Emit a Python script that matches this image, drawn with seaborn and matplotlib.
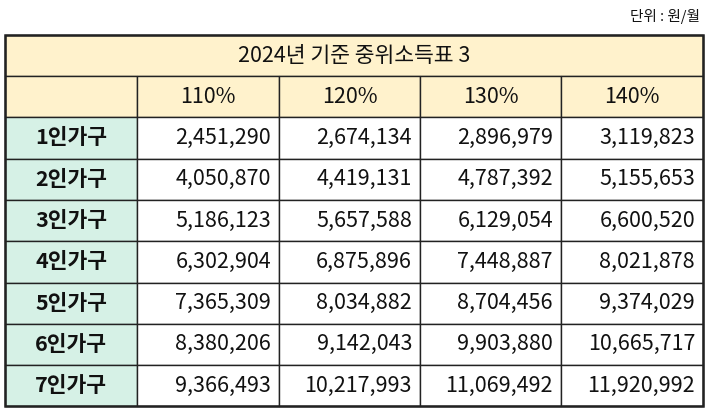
import matplotlib
matplotlib.use("Agg")
import matplotlib.pyplot as plt
from matplotlib.patches import Rectangle
import seaborn as sns

title = "2024년 기준 중위소득표 3"
unit_note = "단위 : 원/월"
columns = ["110%", "120%", "130%", "140%"]
households = ["1인가구", "2인가구", "3인가구", "4인가구", "5인가구", "6인가구", "7인가구"]
values = [
    [2451290, 2674134, 2896979, 3119823],
    [4050870, 4419131, 4787392, 5155653],
    [5186123, 5657588, 6129054, 6600520],
    [6302904, 6875896, 7448887, 8021878],
    [7365309, 8034882, 8704456, 9374029],
    [8380206, 9142043, 9903880, 10665717],
    [9366493, 10217993, 11069492, 11920992],
]

sns.set_theme(style="white")
plt.rcParams["font.family"] = ["Noto Sans CJK KR", "DejaVu Sans"]

W, H = 707, 412
fig = plt.figure(figsize=(W / 100, H / 100), dpi=100)
ax = fig.add_axes([0, 0, 1, 1])
ax.set_xlim(0, W)
ax.set_ylim(H, 0)
ax.axis("off")

yellow = "#FFF2CC"
green = "#D6F1E6"
line = "#222222"

col_edges = [5, 137, 279, 420, 561, 703]
top, title_h, row_h = 35, 41, 41.3
fs = 15.5

# title row
ax.add_patch(Rectangle((col_edges[0], top), col_edges[-1] - col_edges[0], title_h,
                       facecolor=yellow, edgecolor=line, lw=1))
ax.text((col_edges[0] + col_edges[-1]) / 2, top + title_h / 2, title,
        ha="center", va="center", fontsize=fs, color="#111111")

# header row + body
y = top + title_h
header = [""] + columns
for c in range(5):
    ax.add_patch(Rectangle((col_edges[c], y), col_edges[c + 1] - col_edges[c], row_h,
                           facecolor=yellow, edgecolor=line, lw=1))
    ax.text((col_edges[c] + col_edges[c + 1]) / 2, y + row_h / 2, header[c],
            ha="center", va="center", fontsize=fs, color="#111111")
y += row_h
for r, name in enumerate(households):
    ax.add_patch(Rectangle((col_edges[0], y), col_edges[1] - col_edges[0], row_h,
                           facecolor=green, edgecolor=line, lw=1))
    ax.text((col_edges[0] + col_edges[1]) / 2, y + row_h / 2, name,
            ha="center", va="center", fontsize=fs, fontweight="bold", color="#111111")
    for c, v in enumerate(values[r]):
        x0, x1 = col_edges[c + 1], col_edges[c + 2]
        ax.add_patch(Rectangle((x0, y), x1 - x0, row_h,
                               facecolor="white", edgecolor=line, lw=1))
        ax.text(x1 - 8, y + row_h / 2, f"{v:,}", ha="right", va="center",
                fontsize=fs, color="#111111")
    y += row_h

ax.add_patch(Rectangle((col_edges[0], top), col_edges[-1] - col_edges[0], y - top,
                       facecolor="none", edgecolor=line, lw=1.8))
ax.text(700, 16, unit_note, ha="right", va="center", fontsize=10.5, color="#111111")

fig.savefig("out.png", dpi=100)
